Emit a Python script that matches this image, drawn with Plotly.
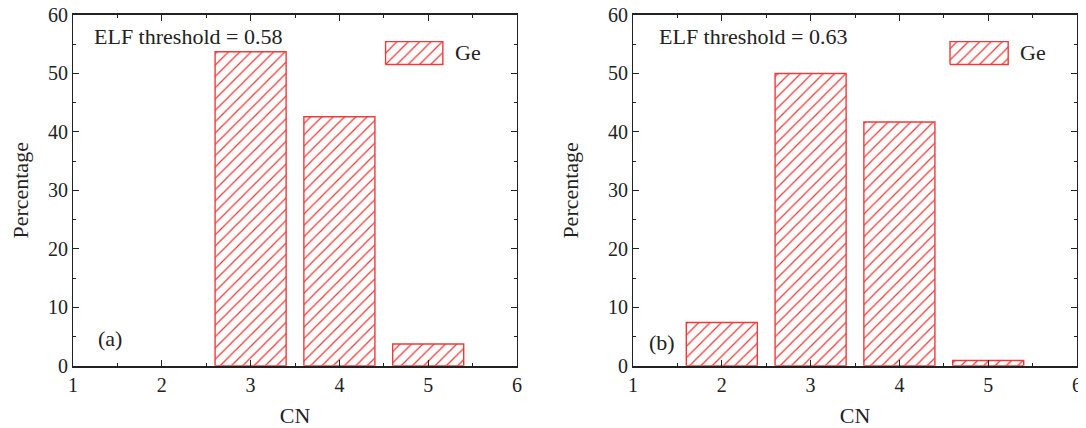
import plotly.graph_objects as go

# ---- data ----
cn_a = [3, 4, 5]
pct_a = [53.7, 42.6, 3.7]
cn_b = [2, 3, 4, 5]
pct_b = [7.4, 50.0, 41.7, 0.9]
label_a = "ELF threshold = 0.58"
label_b = "ELF threshold = 0.63"
series_name = "Ge"
x_ticks = [1, 2, 3, 4, 5, 6]
y_ticks = [0, 10, 20, 30, 40, 50, 60]

RED = "#f03a3a"
FONT = "Liberation Serif, DejaVu Serif, serif"
# page body has an 8px margin; the figure fills the rest of the window
OFF = 8
W, H = 1086 - OFF, 428 - OFF

fig = go.Figure()

PAT = dict(shape="/", fgcolor=RED, bgcolor="white", size=8, solidity=0.16, fgopacity=1)

def bar(x, y, xa, ya):
    return go.Bar(
        x=x, y=y, width=0.8, xaxis=xa, yaxis=ya, showlegend=False,
        marker=dict(color="white", line=dict(color=RED, width=1.4), pattern=PAT),
    )

fig.add_trace(bar(cn_a, pct_a, "x", "y"))
fig.add_trace(bar(cn_b, pct_b, "x2", "y2"))

# legend swatches (on overlay axes spanning 0..1 of each panel)
def swatch(xa, ya, x0, x1, y0, y1):
    return go.Scatter(
        x=[x0, x1, x1, x0, x0], y=[y0, y0, y1, y1, y0], xaxis=xa, yaxis=ya,
        mode="lines", fill="toself", fillcolor="white", line=dict(color=RED, width=1.4),
        fillpattern=PAT, showlegend=False, hoverinfo="skip",
    )

fig.add_trace(swatch("x3", "y3", 0.704, 0.833, 0.859, 0.924))
fig.add_trace(swatch("x4", "y4", 0.714, 0.845, 0.859, 0.924))

dom_a = [(73 - OFF) / W, (517 - OFF) / W]
dom_b = [(633 - OFF) / W, (1077 - OFF) / W]
dom_y = [1 - (365.7 - OFF) / H, 1 - (15 - OFF) / H]

axis_font = dict(family=FONT, size=20, color="#222")
title_font = dict(family=FONT, size=22, color="#222")

def xax(domain, anchor):
    return dict(
        domain=domain, anchor=anchor, range=[1, 6], tickvals=x_ticks,
        ticks="inside", ticklen=6, tickwidth=1, tickcolor="#222",
        minor=dict(dtick=0.5, tick0=1, ticks="inside", ticklen=3, tickcolor="#222"),
        showline=True, linecolor="#222", linewidth=1.6, mirror="allticks",
        showgrid=False, zeroline=False, tickfont=axis_font, automargin=False,
        ticklabeloverflow="allow",
        title=dict(text="CN", font=title_font, standoff=17),
    )

def yax(anchor):
    return dict(
        domain=dom_y, anchor=anchor, range=[0, 60], tickvals=y_ticks,
        ticks="inside", ticklen=6, tickwidth=1, tickcolor="#222",
        minor=dict(dtick=5, tick0=0, ticks="inside", ticklen=3, tickcolor="#222"),
        showline=True, linecolor="#222", linewidth=1.2, mirror="allticks",
        showgrid=False, zeroline=False, tickfont=axis_font, automargin=False,
        ticklabeloverflow="allow",
        title=dict(text="Percentage", font=title_font, standoff=23),
    )

ov = dict(range=[0, 1], visible=False, fixedrange=True, automargin=False)

fig.update_layout(
    width=W, height=H, margin=dict(l=0, r=0, t=0, b=0, autoexpand=False),
    paper_bgcolor="white", plot_bgcolor="white", showlegend=False,
    font=dict(family=FONT),
    xaxis=xax(dom_a, "y"), yaxis=yax("x"),
    xaxis2=xax(dom_b, "y2"), yaxis2=yax("x2"),
    xaxis3=dict(overlaying="x", anchor="y3", **ov),
    yaxis3=dict(overlaying="y", anchor="x3", **ov),
    xaxis4=dict(overlaying="x2", anchor="y4", **ov),
    yaxis4=dict(overlaying="y2", anchor="x4", **ov),
    bargap=0.2,
)

ann_font = dict(family=FONT, size=22, color="#222")
anns = [
    ("x domain", "y domain", 0.043, 0.94, label_a),
    ("x2 domain", "y2 domain", 0.053, 0.94, label_b),
    ("x domain", "y domain", 0.052, 0.078, "(a)"),
    ("x2 domain", "y2 domain", 0.032, 0.066, "(b)"),
    ("x domain", "y domain", 0.855, 0.892, series_name),
    ("x2 domain", "y2 domain", 0.868, 0.892, series_name),
]
for xr, yr, x, y, t in anns:
    fig.add_annotation(xref=xr, yref=yr, x=x, y=y, text=t, showarrow=False,
                       xanchor="left", yanchor="middle", font=ann_font)

fig.write_html("out.html")
